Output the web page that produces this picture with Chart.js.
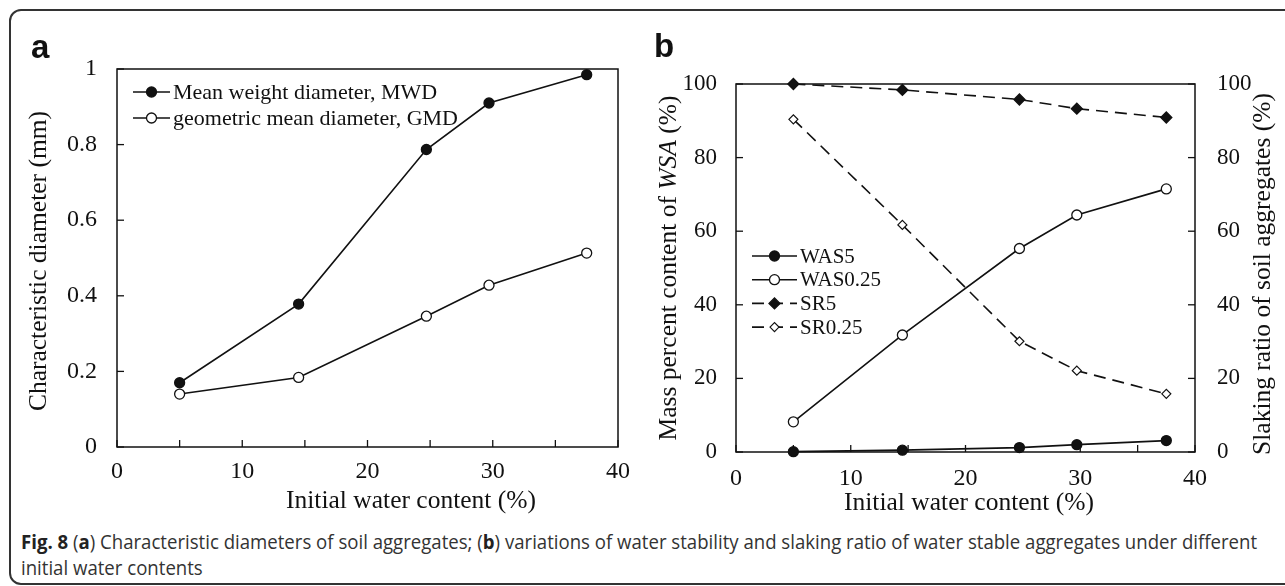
<!DOCTYPE html>
<html>
<head>
<meta charset="utf-8">
<script src="https://cdn.jsdelivr.net/npm/chart.js@4.4.1/dist/chart.umd.min.js"></script>
<style>
  html, body { margin: 0; padding: 0; background: #fff; }
  body { width: 1285px; height: 586px; position: relative; overflow: hidden; }
  #frame {
    position: absolute; left: 9px; top: 9px; width: 1400px; height: 576px;
    border: 2px solid #333; border-radius: 12px; box-sizing: border-box;
  }
  #chartA { position: absolute; left: 0; top: 0; }
  #chartB { position: absolute; left: 640px; top: 0; }
  .cap {
    position: absolute; left: 21px; font-family: "Open Sans", sans-serif;
    font-size: 20px; line-height: 26px; color: #333; white-space: nowrap;
    transform-origin: 0 50%;
  }
  .cap b { font-weight: 700; color: #222; }
</style>
</head>
<body>
<div id="frame"></div>
<canvas id="chartA" width="640" height="520"></canvas>
<canvas id="chartB" width="645" height="520"></canvas>
<div class="cap" id="cap1" style="top:529px"><b>Fig. 8</b> (<b>a</b>) Characteristic diameters of soil aggregates; (<b>b</b>) variations of water stability and slaking ratio of water stable aggregates under different</div>
<div class="cap" id="cap2" style="top:555px">initial water contents</div>

<script>
// values
const waterContent = [5.0, 14.5, 24.7, 29.7, 37.5];

const mwd = [0.17, 0.378, 0.787, 0.91, 0.985];
const gmd = [0.14, 0.184, 0.346, 0.428, 0.513];

const was5 = [0.1, 0.5, 1.2, 2.0, 3.1];
const was025 = [8.2, 31.8, 55.3, 64.4, 71.5];
const sr5 = [100, 98.4, 95.8, 93.3, 90.9];
const sr025 = [90.4, 61.7, 30.1, 22.1, 15.8];

const xTickLabels = [0, 10, 20, 30, 40];
const yTickLabelsA = ['0', '0.2', '0.4', '0.6', '0.8', '1'];
const yTickLabelsB = ['0', '20', '40', '60', '80', '100'];

const SERIF = '"Liberation Serif", "Times New Roman", serif';
Chart.defaults.font.family = SERIF;
Chart.defaults.color = '#111';
Chart.defaults.animation = false;

const INK = '#111';

function pairs(xs, ys) {
  return xs.map((x, i) => ({ x: x, y: ys[i] }));
}

// box around chart area + inward tick marks
const frameTicks = {
  id: 'frameTicks',
  beforeDatasetsDraw(chart) {
    const { ctx, chartArea: a } = chart;
    ctx.save();
    ctx.strokeStyle = INK;
    ctx.lineWidth = 1.5;
    ctx.strokeRect(a.left, a.top, a.right - a.left, a.bottom - a.top);
    ctx.lineWidth = 1.3;
    Object.values(chart.scales).forEach(s => {
      s.ticks.forEach(t => {
        const p = s.getPixelForValue(t.value);
        ctx.beginPath();
        if (s.axis === 'x') {
          ctx.moveTo(p, a.bottom); ctx.lineTo(p, a.bottom - 7);
        } else if (s.position === 'left') {
          ctx.moveTo(a.left, p); ctx.lineTo(a.left + 7, p);
        } else {
          ctx.moveTo(a.right, p); ctx.lineTo(a.right - 7, p);
        }
        ctx.stroke();
      });
    });
    ctx.restore();
  }
};

function drawParts(ctx, parts, cx, cy, rotate) {
  ctx.save();
  ctx.translate(cx, cy);
  if (rotate) ctx.rotate(-Math.PI / 2);
  ctx.textBaseline = 'middle';
  ctx.textAlign = 'left';
  ctx.fillStyle = INK;
  let w = 0;
  parts.forEach(p => { ctx.font = p.font; w += ctx.measureText(p.text).width; });
  let x = -w / 2;
  parts.forEach(p => {
    ctx.font = p.font;
    ctx.fillText(p.text, x, 0);
    x += ctx.measureText(p.text).width;
  });
  ctx.restore();
}

// titles, panel letter and legend, drawn from plugin options
const decor = {
  id: 'decor',
  afterDraw(chart, args, opts) {
    const ctx = chart.ctx;
    ctx.save();
    ctx.fillStyle = INK;
    ctx.font = 'bold 33px "Liberation Sans", Arial, sans-serif';
    ctx.textBaseline = 'alphabetic';
    ctx.fillText(opts.letter, opts.letterX, opts.letterY);
    ctx.restore();

    opts.titles.forEach(t => drawParts(ctx, t.parts, t.x, t.y, t.rotate));

    const lg = opts.legend;
    chart.data.datasets.forEach((ds, i) => {
      const y = lg.y + i * lg.dy;
      ctx.save();
      ctx.strokeStyle = ds.borderColor;
      ctx.lineWidth = ds.borderWidth;
      ctx.setLineDash(ds.borderDash || []);
      ctx.beginPath();
      ctx.moveTo(lg.x, y);
      ctx.lineTo(lg.x + lg.len, y);
      ctx.stroke();
      ctx.setLineDash([]);
      ctx.fillStyle = ds.pointBackgroundColor;
      ctx.strokeStyle = ds.pointBorderColor;
      ctx.lineWidth = ds.pointBorderWidth;
      Chart.helpers.drawPoint(ctx, {
        pointStyle: ds.pointStyle || 'circle',
        radius: ds.pointRadius,
        borderWidth: ds.pointBorderWidth,
        rotation: 0
      }, lg.x + lg.len / 2, y);
      ctx.fillStyle = INK;
      ctx.font = lg.font;
      ctx.textBaseline = 'middle';
      ctx.fillText(ds.label, lg.x + lg.len + lg.gap, y + 1);
      ctx.restore();
    });
  }
};

function lineSet(label, xs, ys, opts) {
  return Object.assign({
    label: label,
    data: pairs(xs, ys),
    borderColor: INK,
    borderWidth: 1.6,
    pointRadius: 5,
    pointHoverRadius: 5,
    pointBorderWidth: 1.3,
    pointBorderColor: INK,
    pointBackgroundColor: INK,
    tension: 0,
    clip: false
  }, opts);
}

function xScale(pad, height) {
  return {
    type: 'linear', min: 0, max: 40,
    grid: { display: false, drawTicks: false },
    border: { display: false },
    ticks: {
      stepSize: 5, autoSkip: false, maxRotation: 0, padding: pad,
      font: { family: SERIF, size: 24 },
      callback: v => xTickLabels.includes(v) ? String(v) : ''
    },
    afterFit: s => { s.height = height; }
  };
}

// panel a
new Chart(document.getElementById('chartA'), {
  type: 'line',
  data: {
    datasets: [
      lineSet('Mean weight diameter, MWD', waterContent, mwd, {}),
      lineSet('geometric mean diameter, GMD', waterContent, gmd, { pointBackgroundColor: '#fff' })
    ]
  },
  options: {
    responsive: false,
    layout: { padding: { top: 69, right: 12, left: 0, bottom: 0 } },
    plugins: {
      legend: { display: false },
      tooltip: { enabled: false },
      decor: {
        letter: 'a', letterX: 31, letterY: 58,
        titles: [
          { parts: [{ text: 'Characteristic diameter (mm)', font: '25.5px "Liberation Serif"' }], x: 39, y: 261, rotate: true },
          { parts: [{ text: 'Initial water content (%)', font: '25.5px "Liberation Serif"' }], x: 411, y: 501, rotate: false }
        ],
        legend: { x: 133, len: 37, gap: 3, y: 92, dy: 26, font: '22px "Liberation Serif"' }
      }
    },
    scales: {
      x: xScale(10, 73),
      y: {
        type: 'linear', min: 0, max: 1,
        grid: { display: false, drawTicks: false },
        border: { display: false },
        ticks: {
          stepSize: 0.2, padding: 20, font: { family: SERIF, size: 24 },
          callback: (v, i) => yTickLabelsA[i]
        },
        afterFit: s => { s.width = 117; }
      }
    }
  },
  plugins: [frameTicks, decor]
});

// panel b
new Chart(document.getElementById('chartB'), {
  type: 'line',
  data: {
    datasets: [
      lineSet('WAS5', waterContent, was5, { yAxisID: 'y' }),
      lineSet('WAS0.25', waterContent, was025, { yAxisID: 'y', pointBackgroundColor: '#fff' }),
      lineSet('SR5', waterContent, sr5, { yAxisID: 'y2', borderDash: [12, 7], pointStyle: 'rectRot', pointRadius: 5.5 }),
      lineSet('SR0.25', waterContent, sr025, { yAxisID: 'y2', borderDash: [12, 7], pointStyle: 'rectRot', pointRadius: 4.5, pointBackgroundColor: '#fff', pointBorderWidth: 1.2 })
    ]
  },
  options: {
    responsive: false,
    layout: { padding: { top: 84, right: 0, left: 0, bottom: 0 } },
    plugins: {
      legend: { display: false },
      tooltip: { enabled: false },
      decor: {
        letter: 'b', letterX: 14, letterY: 57,
        titles: [
          { parts: [
              { text: 'Mass percent content of ', font: '25.5px "Liberation Serif"' },
              { text: 'WSA', font: 'italic 25.5px "Liberation Serif"' },
              { text: ' (%)', font: '25.5px "Liberation Serif"' }
            ], x: 29, y: 268, rotate: true },
          { parts: [{ text: 'Slaking ratio of soil aggregates (%)', font: '25.5px "Liberation Serif"' }], x: 623, y: 274, rotate: true },
          { parts: [{ text: 'Initial water content (%)', font: '25.5px "Liberation Serif"' }], x: 329, y: 503, rotate: false }
        ],
        legend: { x: 112, len: 45, gap: 3, y: 256, dy: 23.7, font: '21px "Liberation Serif"' }
      }
    },
    scales: {
      x: xScale(12, 68),
      y: {
        type: 'linear', position: 'left', min: 0, max: 100,
        grid: { display: false, drawTicks: false },
        border: { display: false },
        ticks: {
          stepSize: 20, padding: 19, font: { family: SERIF, size: 23 },
          callback: (v, i) => yTickLabelsB[i]
        },
        afterFit: s => { s.width = 96; }
      },
      y2: {
        type: 'linear', position: 'right', min: 0, max: 100,
        grid: { display: false, drawTicks: false },
        border: { display: false },
        ticks: {
          stepSize: 20, padding: 22, font: { family: SERIF, size: 23 },
          callback: (v, i) => yTickLabelsB[i]
        },
        afterFit: s => { s.width = 90; }
      }
    }
  },
  plugins: [frameTicks, decor]
});

// squeeze the caption to the width of the printed line
const cap1 = document.getElementById('cap1');
const cap2 = document.getElementById('cap2');
const k = 1236 / cap1.scrollWidth;
cap1.style.transform = 'scaleX(' + k + ')';
cap2.style.transform = 'scaleX(' + k + ')';
</script>
</body>
</html>
